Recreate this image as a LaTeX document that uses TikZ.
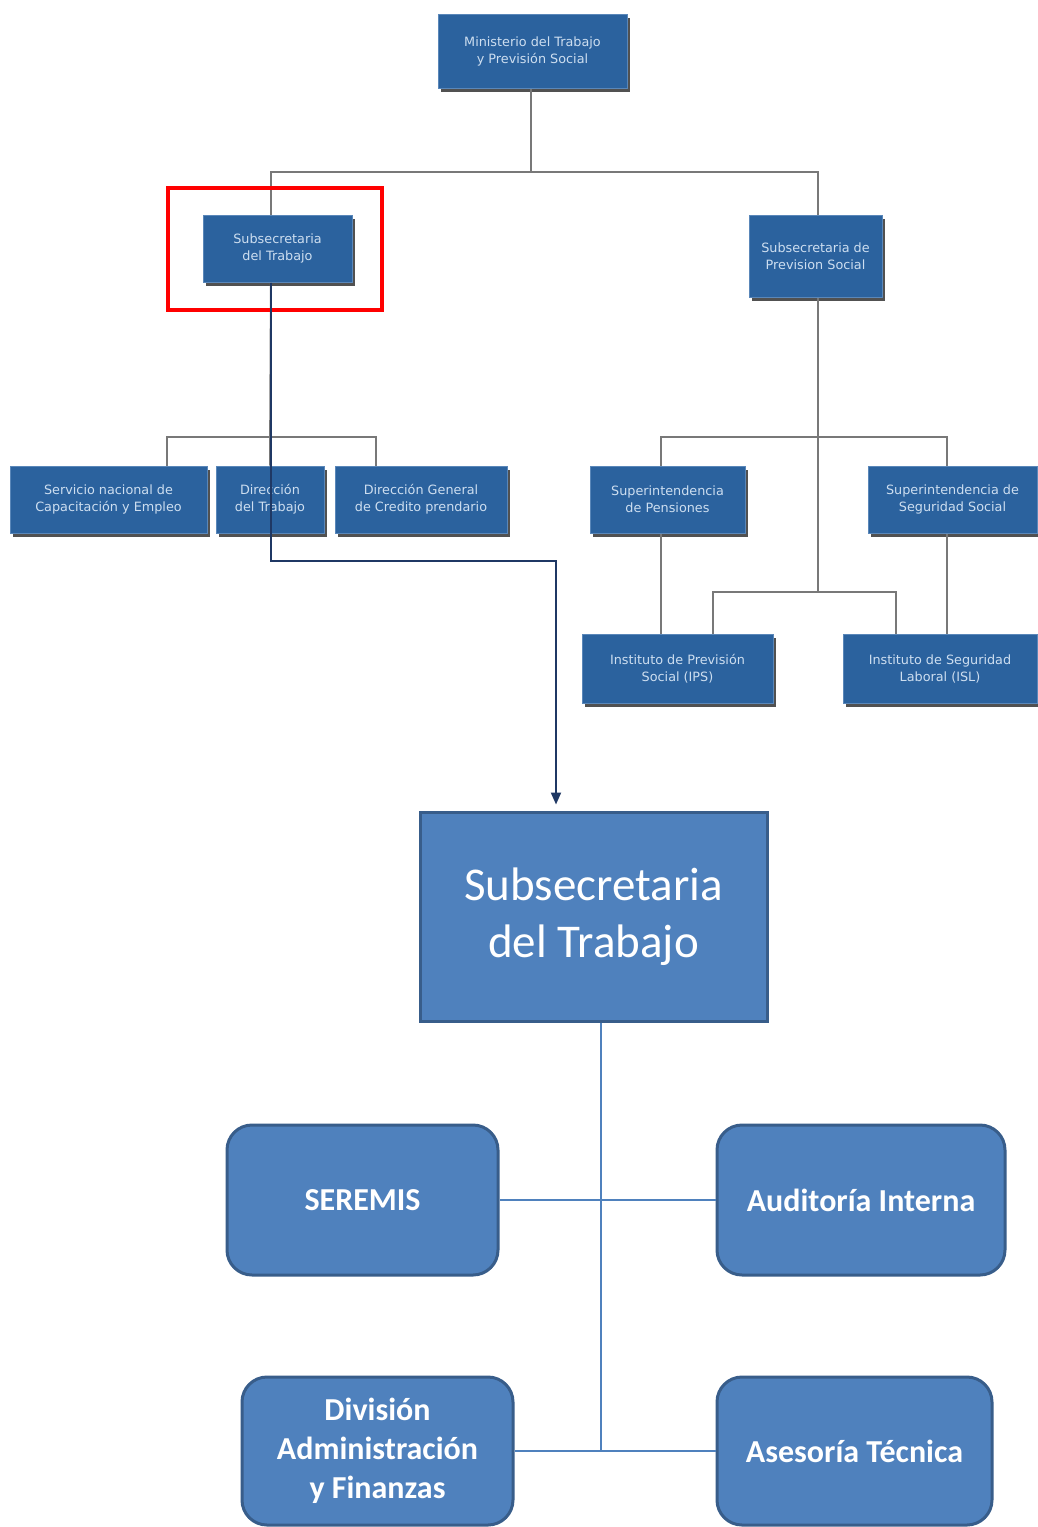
\documentclass[tikz,border=0pt]{standalone}
\usepackage{fontspec}
\setmainfont{Carlito}
\newfontfamily\oldfont{DejaVu Sans}
\usetikzlibrary{shadows,arrows.meta}
\definecolor{oldblue}{RGB}{43,98,158}
\definecolor{oldtext}{RGB}{205,222,240}
\definecolor{oldedge}{RGB}{90,135,185}
\definecolor{newblue}{RGB}{79,129,189}
\definecolor{newborder}{RGB}{56,93,138}
\definecolor{darkline}{RGB}{31,56,100}
\definecolor{treegray}{RGB}{120,120,120}
\begin{document}
\begin{tikzpicture}[x=1pt,y=-1pt,
  oldbox/.style={fill=oldblue, draw=oldedge, line width=1, text=oldtext, align=center, inner sep=0,
    font=\oldfont\fontsize{12.8}{17}\selectfont,
    drop shadow={shadow xshift=3pt, shadow yshift=-4pt, fill=black!80, opacity=0.85}},
  bigbox/.style={fill=newblue, draw=newborder, line width=3, text=white, align=center, inner sep=0,
    font=\fontsize{47}{57}\selectfont},
  roundbox/.style={fill=newblue, draw=newborder, line width=3, rounded corners=25, text=white, align=center, inner sep=0,
    font=\bfseries\fontsize{32}{39}\selectfont},
  tree/.style={draw=treegray, line width=2},
  darkconn/.style={draw=darkline, line width=2},
  conn/.style={draw=newblue, line width=1.6}]
\useasboundingbox (0,0) rectangle (1037,1527);
\fill[white] (0,0) rectangle (1037,1527);

% junction coordinates
\coordinate (j1) at (531,172);
\coordinate (j2) at (271,437);
\coordinate (j3) at (818,437);
\coordinate (j4) at (818,592);
\coordinate (j5) at (556,561);

% old chart boxes
\node[oldbox, minimum width=189, minimum height=74] (min) at (532.5,51) {Ministerio del Trabajo\\y Previsión Social};
\node[oldbox, minimum width=149, minimum height=67] (subT) at (277.5,248.5) {Subsecretaria\\del Trabajo};
\node[oldbox, minimum width=133, minimum height=82] (subP) at (815.5,256) {Subsecretaria de\\Prevision Social};
\node[oldbox, minimum width=197, minimum height=67] (sence) at (108.5,499.5) {Servicio nacional de\\Capacitación y Empleo};
\node[oldbox, minimum width=108, minimum height=67] (dt) at (270,499.5) {Dirección\\del Trabajo};
\node[oldbox, minimum width=172, minimum height=67] (dg) at (421,499.5) {Dirección General\\de Credito prendario};
\node[oldbox, minimum width=155, minimum height=67] (sp) at (667.5,499.5) {Superintendencia\\de Pensiones};
\node[oldbox, minimum width=169, minimum height=67] (sss) at (952.5,499.5) {Superintendencia de\\Seguridad Social};
\node[oldbox, minimum width=191, minimum height=69] (ips) at (677.5,668.5) {Instituto de Previsión\\Social (IPS)};
\node[oldbox, minimum width=194, minimum height=69] (isl) at (940,668.5) {Instituto de Seguridad\\Laboral (ISL)};

% old chart tree lines
\draw[tree] ([xshift=-1.5]min.south) -- (j1);
\draw[tree] ([xshift=-6.5]subT.north) |- (j1) -| ([xshift=2.5]subP.north);
\draw[tree] ([xshift=-6.5]subT.south) -- (dt.north);
\draw[tree] ([xshift=58.5]sence.north) |- (j2) -| ([xshift=-45]dg.north);
\draw[tree] ([xshift=2.5]subP.south) -- (j4);
\draw[tree] ([xshift=-6.5]sp.north) |- (j3) -| ([xshift=-5.5]sss.north);
\draw[tree] ([xshift=-6.5]sp.south) -- ([xshift=-16.5]ips.north);
\draw[tree] ([xshift=-5.5]sss.south) -- ([xshift=7]isl.north);
\draw[tree] ([xshift=35.5]ips.north) |- (j4) -| ([xshift=-44]isl.north);

% highlight
\node[draw=red, line width=4, minimum width=214, minimum height=122, inner sep=0] (hl) at (275,249) {};

% new chart
\node[bigbox, minimum width=347, minimum height=209] (big) at (593.5,916.5) {Subsecretaria\\del Trabajo};
\draw[darkconn, -{Triangle[length=12pt,width=10pt]}, shorten >=6pt] ([xshift=-6.5]subT.south) |- (j5) -- ([xshift=-37.5]big.north);

\node[roundbox, minimum width=271, minimum height=150] (ser) at (362.5,1200) {SEREMIS};
\node[roundbox, minimum width=288, minimum height=150] (aud) at (861,1200) {Auditoría Interna};
\node[roundbox, minimum width=271, minimum height=148] (div) at (377.5,1451) {División\\Administración\\y Finanzas};
\node[roundbox, minimum width=275, minimum height=148] (ase) at (854.5,1451) {Asesoría Técnica};

\coordinate (j7) at (601,1451);
\draw[conn] ([xshift=7.5]big.south) -- (j7);
\draw[conn] (ser.east) -- (aud.west);
\draw[conn] (div.east) -- (ase.west);
\end{tikzpicture}
\end{document}
